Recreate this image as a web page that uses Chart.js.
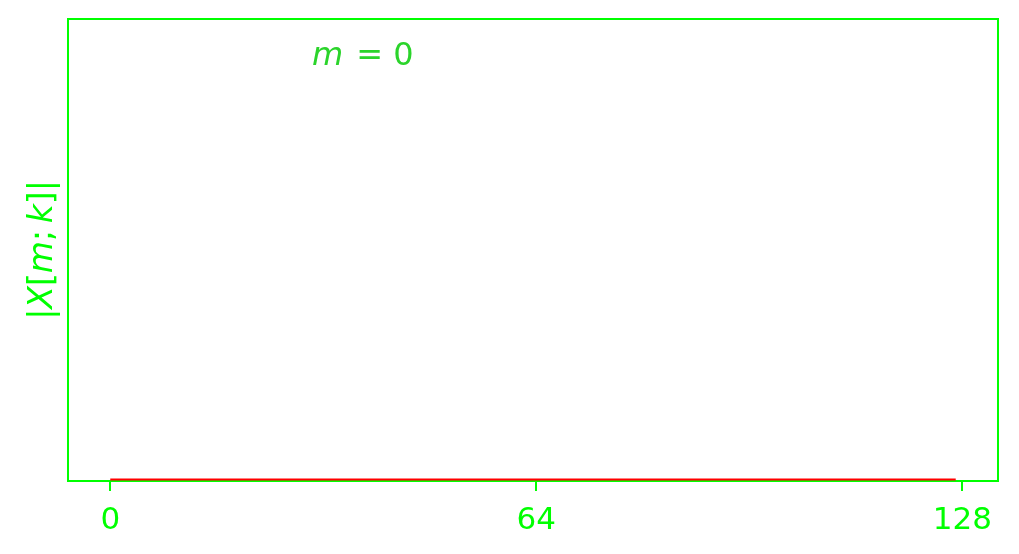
<!DOCTYPE html>
<html>
<head>
<meta charset="utf-8">
<script src="https://cdn.jsdelivr.net/npm/chart.js@4/dist/chart.umd.min.js"></script>
<style>
  html, body { margin: 0; padding: 0; background: #ffffff; }
  #wrap { width: 1019px; height: 554px; }
</style>
</head>
<body>
<div id="wrap"><canvas id="c" width="1019" height="554"></canvas></div>
<script>
// frequency bins k = 0..127
const bins = [];
for (let k = 0; k < 128; k++) bins.push(k);

// magnitude |X[m;k]| for frame m = 0 (all zero)
const magnitude = [
  0,0,0,0,0,0,0,0,0,0,0,0,0,0,0,0,
  0,0,0,0,0,0,0,0,0,0,0,0,0,0,0,0,
  0,0,0,0,0,0,0,0,0,0,0,0,0,0,0,0,
  0,0,0,0,0,0,0,0,0,0,0,0,0,0,0,0,
  0,0,0,0,0,0,0,0,0,0,0,0,0,0,0,0,
  0,0,0,0,0,0,0,0,0,0,0,0,0,0,0,0,
  0,0,0,0,0,0,0,0,0,0,0,0,0,0,0,0,
  0,0,0,0,0,0,0,0,0,0,0,0,0,0,0,0
];

const xTicks = [0, 64, 128];

const GREEN = '#00ff00';
const TITLE_GREEN = '#2bd42b';
const FONT = '"DejaVu Sans", sans-serif';

// frame goes under the line, texts on top
const frame = {
  id: 'frame',
  beforeDatasetsDraw(chart) {
    const { ctx, chartArea: a } = chart;
    ctx.save();
    ctx.strokeStyle = GREEN;
    ctx.lineWidth = 2;
    ctx.strokeRect(a.left, a.top, a.right - a.left, a.bottom - a.top);
    ctx.restore();
  },
  afterDatasetsDraw(chart) {
    const { ctx } = chart;
    ctx.save();
    // title "m = 0"
    ctx.fillStyle = TITLE_GREEN;
    ctx.textBaseline = 'alphabetic';
    ctx.textAlign = 'left';
    let x = 312;
    ctx.font = 'italic 32px ' + FONT;
    ctx.fillText('m', x, 65);
    x += ctx.measureText('m').width + 3;
    ctx.font = '32px ' + FONT;
    ctx.fillText(' = 0', x, 65);

    // y label |X[m;k]|
    const parts = [['|', false], ['X', true], ['[', false], ['m', true], [';', false], ['\u2009', false], ['k', true], [']|', false]];
    ctx.translate(52, 250);
    ctx.rotate(-Math.PI / 2);
    let total = 0;
    parts.forEach(p => {
      ctx.font = (p[1] ? 'italic ' : '') + '33px ' + FONT;
      total += ctx.measureText(p[0]).width;
    });
    let px = -total / 2;
    ctx.fillStyle = GREEN;
    parts.forEach(p => {
      ctx.font = (p[1] ? 'italic ' : '') + '33px ' + FONT;
      ctx.fillText(p[0], px, 0);
      px += ctx.measureText(p[0]).width;
    });
    ctx.restore();
  }
};

new Chart(document.getElementById('c'), {
  type: 'line',
  data: {
    datasets: [{
      data: bins.map((k, i) => ({ x: k, y: magnitude[i] })),
      borderColor: '#ff0000',
      borderWidth: 2,
      pointRadius: 0,
      tension: 0,
      clip: 4
    }]
  },
  options: {
    responsive: false,
    animation: false,
    layout: { padding: { left: 68, right: 21, top: 19, bottom: 0 } },
    plugins: { legend: { display: false }, tooltip: { enabled: false } },
    scales: {
      x: {
        type: 'linear',
        min: -6.35,
        max: 133.35,
        afterBuildTicks: s => { s.ticks = xTicks.map(v => ({ value: v })); },
        afterFit: s => { s.height = 73; },
        border: { display: false },
        grid: { drawOnChartArea: false, color: GREEN, lineWidth: 2, tickLength: 10 },
        ticks: { color: GREEN, font: { family: FONT, size: 31 }, padding: 11, maxRotation: 0 }
      },
      y: {
        display: false,
        min: -0.003,
        max: 1
      }
    }
  },
  plugins: [frame]
});
</script>
</body>
</html>
